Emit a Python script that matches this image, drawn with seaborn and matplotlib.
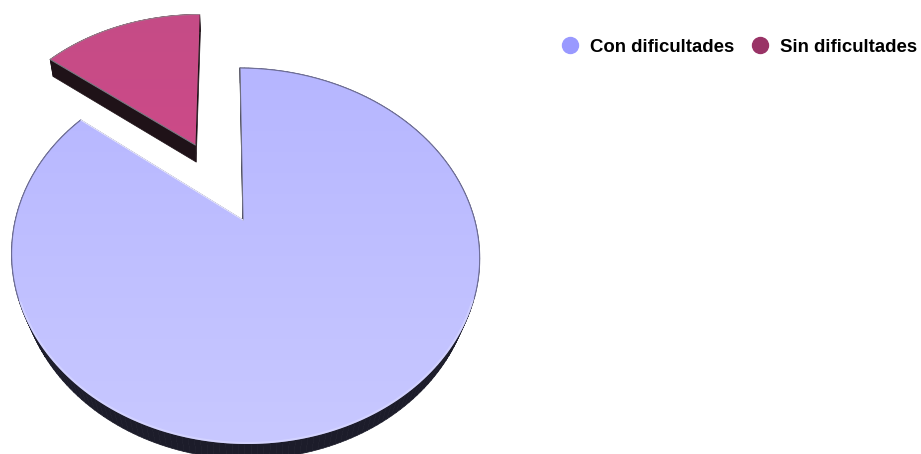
import numpy as np
import matplotlib
matplotlib.use("Agg")
import matplotlib.pyplot as plt
from matplotlib.collections import PolyCollection
from matplotlib.lines import Line2D
from matplotlib.patches import Polygon
import seaborn as sns

categories = ["Con dificultades", "Sin dificultades"]
values = [85.6, 14.4]
explode = [0.0, 0.5]
legend_colors = ["#9999FF", "#993366"]
top_colors = [("#B6B6FF", "#C8C8FF"), ("#C54C86", "#CC4A88")]
rim_colors = ["#1C1C2A", "#1F1218"]
rim_scale = [0.968, 0.985]
rim_drop = [15, 17]

sns.set_theme(style="white")
plt.rcParams["font.family"] = ["Liberation Sans", "DejaVu Sans"]

fig = plt.figure(figsize=(9.21, 4.54), dpi=100)
ax = fig.add_axes([0, 0, 1, 1])
wedges, _ = ax.pie(values, explode=explode, startangle=90, counterclock=False,
                   colors=sns.color_palette(legend_colors), frame=False)


def project(x, y):
    """Perspective view of the flat pie, into image pixels."""
    w = 1 + 0.1915 * y
    return 243 + (229.7 * x - 3.6 * y) / w + 2 * x ** 2, 220 - 181.1 * y / w


for i, wedge in enumerate(wedges):
    th = np.radians(np.linspace(wedge.theta1, wedge.theta2, 240))
    cx, cy = wedge.center
    ax_x = np.r_[cx, cx + wedge.r * np.cos(th)]
    ax_y = np.r_[cy, cy + wedge.r * np.sin(th)]
    wedge.set_visible(False)
    px, py = project(ax_x, ax_y)
    qx, qy = 245 + (px - 245) * rim_scale[i], py + rim_drop[i]
    n = len(px)
    quads = [[(px[j], py[j]), (px[(j + 1) % n], py[(j + 1) % n]),
              (qx[(j + 1) % n], qy[(j + 1) % n]), (qx[j], qy[j])] for j in range(n)]
    ax.add_collection(PolyCollection(quads, facecolors=rim_colors[i],
                                     edgecolors=rim_colors[i], linewidths=0.5, zorder=2))
    poly = Polygon(np.c_[px, py], closed=True, fc="none", ec="none", zorder=3)
    ax.add_patch(poly)

    # top face: soft vertical gradient clipped to the slice
    c0, c1 = [np.array(matplotlib.colors.to_rgb(c)) for c in top_colors[i]]
    t = np.linspace(0, 1, 256)[:, None, None]
    grad = c0 * (1 - t) + c1 * t
    img = ax.imshow(grad, extent=[px.min(), px.max(), py.max(), py.min()],
                    aspect="auto", zorder=3, interpolation="bilinear")
    img.set_clip_path(poly)

    # bevel: light glow inside the near edge, thin dark line on the far edge
    arc_x, arc_y = px[1:], py[1:]
    near = arc_y > 300
    glow = Line2D(arc_x[near], arc_y[near], color="#F0F0FF", lw=3, alpha=0.3,
                  zorder=4, solid_capstyle="round")
    ax.add_line(glow)
    glow.set_clip_path(poly)
    if i == 0:
        ax.plot(arc_x, np.where(near, np.nan, arc_y), color="#6F6F99", lw=0.8, zorder=5)
        ax.plot([px[0], px[-1]], [py[0], py[-1]], color="#6F6F80", lw=0.8, zorder=5)
        ax.plot([px[0], px[1]], [py[0], py[1]], color="#E8E8FF", lw=0.8, zorder=5)
    else:
        ax.plot(arc_x, arc_y, color="#A08090", lw=0.7, zorder=5)
        ax.plot([px[0], px[-1]], [py[0], py[-1]], color="#777780", lw=0.8, zorder=5)

ax.set_aspect("auto")
ax.set_xlim(0, 921)
ax.set_ylim(454, 0)
ax.axis("off")

handles = [Line2D([], [], ls="none", marker="o", ms=11.5, mfc=c, mec=c) for c in legend_colors]
leg = ax.legend(handles, categories, ncol=2, frameon=False, loc="center right",
                bbox_to_anchor=(917, 47), bbox_transform=ax.transData,
                prop={"family": "Liberation Sans", "weight": "bold", "size": 13.4},
                labelcolor="black",
                handletextpad=0.3, columnspacing=0.65, borderaxespad=0, borderpad=0,
                handlelength=1.5)
fig.savefig("out.png", dpi=100)
